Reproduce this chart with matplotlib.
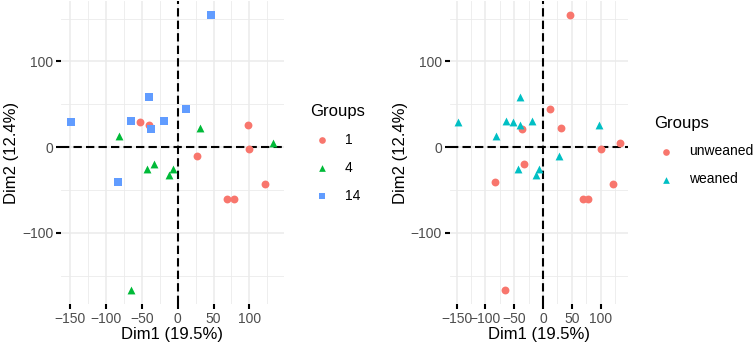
import numpy as np
import matplotlib
matplotlib.use("Agg")
import matplotlib.pyplot as plt
from matplotlib.ticker import MultipleLocator

plt.rcParams["font.family"] = ["Liberation Sans", "DejaVu Sans"]

# ── DATA (PCA scores, same samples in both panels) ─────
dim1 = [46.3, -148.2, -39.9, 12.0, -64.4, -52.4, -39.9, -36.6, -18.6, -81.5, 31.4, 98.0,
        133.3, 100.0, 27.3, -42.6, -32.5, -12.1, -6.1, -83.3, 121.7, 68.9, 77.8, -65.3]
dim2 = [154.4, 29.2, 58.5, 44.9, 30.9, 29.2, 26.2, 20.7, 30.0, 12.5, 21.9, 25.7,
        4.3, -2.7, -10.5, -25.7, -19.1, -32.3, -24.9, -40.1, -42.8, -60.4, -60.8, -166.8]
age_group = ["14", "14", "14", "14", "14", "1", "1", "14", "14", "4", "4", "1",
             "4", "1", "1", "4", "4", "4", "4", "14", "1", "1", "1", "4"]
wean_group = ["unweaned", "weaned", "weaned", "unweaned", "weaned", "weaned", "weaned",
              "unweaned", "weaned", "weaned", "unweaned", "weaned", "unweaned", "unweaned",
              "weaned", "weaned", "unweaned", "weaned", "weaned", "unweaned", "unweaned",
              "unweaned", "unweaned", "unweaned"]

age_levels = ["1", "4", "14"]
age_colors = ["#F8766D", "#00BA38", "#619CFF"]
wean_levels = ["unweaned", "weaned"]
wean_colors = ["#F8766D", "#00BFC4"]
shapes = ["o", "^", "s"]

x = np.array(dim1)
y = np.array(dim2)

# ggplot-style 5% expansion
xr = x.max() - x.min()
yr = y.max() - y.min()
xlim = (x.min() - 0.05 * xr, x.max() + 0.05 * xr)
ylim = (y.min() - 0.05 * yr, y.max() + 0.05 * yr)

W, H = 754, 347
fig = plt.figure(figsize=(W / 100, H / 100), dpi=100)
ax1 = fig.add_axes([61 / W, (H - 304) / H, 222.5 / W, 303 / H])
ax2 = fig.add_axes([449.5 / W, (H - 304) / H, 178.3 / W, 303 / H])


def style(ax):
    ax.set_xlim(xlim)
    ax.set_ylim(ylim)
    ax.xaxis.set_major_locator(MultipleLocator(50))
    ax.xaxis.set_minor_locator(MultipleLocator(25))
    ax.yaxis.set_major_locator(MultipleLocator(100))
    ax.yaxis.set_minor_locator(MultipleLocator(50))
    ax.grid(which="major", color="#EBEBEB", lw=1.1)
    ax.grid(which="minor", color="#EBEBEB", lw=0.6)
    ax.set_axisbelow(True)
    for s in ax.spines.values():
        s.set_visible(False)
    ax.tick_params(which="major", length=3.5, width=1.5, color="black",
                   labelsize=10, labelcolor="#4D4D4D", pad=2)
    ax.tick_params(which="minor", length=0)
    ax.axhline(0, color="black", lw=1.5, dashes=(4, 2), zorder=2)
    ax.axvline(0, color="black", lw=1.5, dashes=(4, 2), zorder=2)
    ax.set_xlabel("Dim1 (19.5%)", fontsize=12, labelpad=1)
    ax.set_ylabel("Dim2 (12.4%)", fontsize=12, labelpad=2)


def add_legend(ax, x0, y0):
    leg = ax.legend(title="Groups", loc="center left", bbox_to_anchor=(x0 / W, y0),
                    bbox_transform=fig.transFigure, frameon=False, fontsize=10,
                    title_fontsize=12, handlelength=1.7, handletextpad=0.82,
                    labelspacing=1.0, borderpad=0, borderaxespad=0, markerscale=0.85)
    leg._legend_box.align = "left"


# ── LEFT: age groups ───────────────────────────────────
style(ax1)
for lev, col, mk in zip(age_levels, age_colors, shapes):
    idx = [i for i, g in enumerate(age_group) if g == lev]
    ax1.scatter(x[idx], y[idx], s=32, c=col, marker=mk, linewidths=0, label=lev, zorder=3)
add_legend(ax1, 310, 0.558)

# ── RIGHT: weaning status ──────────────────────────────
style(ax2)
for lev, col, mk in zip(wean_levels, wean_colors, shapes):
    idx = [i for i, g in enumerate(wean_group) if g == lev]
    ax2.scatter(x[idx], y[idx], s=32, c=col, marker=mk, linewidths=0, label=lev, zorder=3)
add_legend(ax2, 654, 0.565)

fig.savefig("out.png", dpi=100)
